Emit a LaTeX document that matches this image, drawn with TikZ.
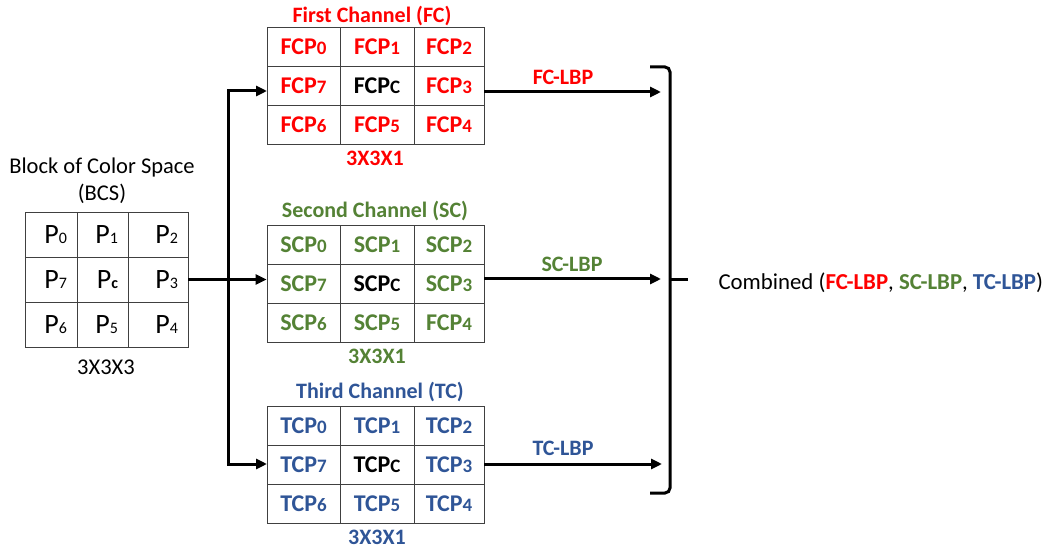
\documentclass[tikz,border=0pt]{standalone}
\usepackage{fontspec}
\setmainfont{Carlito}
\usetikzlibrary{arrows.meta,calc,positioning}
\definecolor{fcred}{RGB}{255,0,0}
\definecolor{scgreen}{RGB}{84,130,53}
\definecolor{tcblue}{RGB}{47,85,151}
\newcommand{\psub}[1]{{\fontsize{19}{19}\selectfont #1}}
\newcommand{\bsub}[1]{{\fontsize{16}{16}\selectfont #1}}
\newcommand{\ctrcell}[1]{\textcolor{black}{#1}}

\begin{document}
\begin{tikzpicture}[x=1pt, y=-1pt, >=Stealth,
  flow/.style={-{Triangle[length=11pt, width=10pt]}, line width=3pt},
  chcell/.style={draw=black!75, line width=0.9pt, minimum width=#1 pt, minimum height=39pt,
    inner sep=0pt, font=\bfseries\fontsize{24}{24}\selectfont},
  bcell/.style={draw=black!75, line width=0.9pt, minimum height=45pt, inner ysep=0pt,
    inner xsep=10pt, align=right, font=\fontsize{28}{28}\selectfont},
  lbl/.style={font=\bfseries\fontsize{22}{22}\selectfont},
  plain/.style={font=\fontsize{22.5}{27}\selectfont, align=center}]
  \useasboundingbox (0,0) rectangle (1045,548);

  % block of colour space
  \node[plain] (bcstitle) at (102,181) {Block of Color Space\\(BCS)};
  \foreach \lab [count=\k from 0] in {P\bsub0,P\bsub1,P\bsub2,P\bsub7,P\bsub{\textbf{c}},P\bsub3,P\bsub6,P\bsub5,P\bsub4}{
    \pgfmathtruncatemacro\ri{\k/3+1}
    \pgfmathtruncatemacro\ci{mod(\k,3)+1}
    \pgfmathsetmacro\cx{{51,102.5,158}[\ci-1]}
    \pgfmathsetmacro\tw{{32,31,40}[\ci-1]}
    \node[bcell, text width=\tw pt] (bcs-\ri-\ci) at (\cx,{212+45*(\ri-0.5)}) {\lab};
  }
  \node[plain] (bcssize) at (106,367) {3X3X3};

  % the three channels
  \foreach \tb/\ytop/\col/\labs in {
      fc/27/fcred/{FCP\psub0,FCP\psub1,FCP\psub2,FCP\psub7,\ctrcell{FCP\psub{C}},FCP\psub3,FCP\psub6,FCP\psub5,FCP\psub4},
      sc/225/scgreen/{SCP\psub0,SCP\psub1,SCP\psub2,SCP\psub7,\ctrcell{SCP\psub{C}},SCP\psub3,SCP\psub6,SCP\psub5,FCP\psub4},
      tc/406/tcblue/{TCP\psub0,TCP\psub1,TCP\psub2,TCP\psub7,\ctrcell{TCP\psub{C}},TCP\psub3,TCP\psub6,TCP\psub5,TCP\psub4}}
    \foreach \lab [count=\k from 0] in \labs {
      \pgfmathtruncatemacro\ri{\k/3+1}
      \pgfmathtruncatemacro\ci{mod(\k,3)+1}
      \pgfmathsetmacro\cx{{303.5,377,449}[\ci-1]}
      \pgfmathsetmacro\cw{{73,74,70}[\ci-1]}
      \node[chcell=\cw, text=\col] (\tb-\ri-\ci) at (\cx,{\ytop+39*(\ri-0.5)}) {\lab};
    };

  \node[lbl, text=fcred] (fctitle) at (372,16) {First Channel (FC)};
  \node[lbl, text=fcred] (fcsize) at (375,158) {3X3X1};
  \node[lbl, text=scgreen] (sctitle) at (375,211) {Second Channel (SC)};
  \node[lbl, text=scgreen] (scsize) at (377,356) {3X3X1};
  \node[lbl, text=tcblue] (tctitle) at (380,392) {Third Channel (TC)};
  \node[lbl, text=tcblue] (tcsize) at (377,537) {3X3X1};

  % split into channels
  \coordinate (split) at (228,280);
  \coordinate (fcin) at (267,91);
  \coordinate (tcin) at (267,464);
  \draw[flow] (bcs-2-3.east) -- (bcs-2-3.east -| sc-2-1.west);
  \draw[flow] (split) |- (fcin);
  \draw[flow] (split) |- (tcin);

  % channel outputs
  \coordinate (fcend) at (661,92);
  \coordinate (scend) at (661,279);
  \coordinate (tcend) at (662,464);
  \draw[flow] (fc-2-3.east |- fcend) -- (fcend);
  \draw[flow] (sc-2-3.east |- scend) -- (scend);
  \draw[flow] (tc-2-3.east |- tcend) -- (tcend);
  \node[lbl, text=fcred] (fclbp) at (563,77) {FC-LBP};
  \node[lbl, text=scgreen] (sclbp) at (572,264) {SC-LBP};
  \node[lbl, text=tcblue] (tclbp) at (563,448) {TC-LBP};

  % bracket
  \coordinate (brtop) at (650,67);
  \coordinate (brbot) at (650,493);
  \coordinate (brtip) at (688,280);
  \draw[line width=3pt, rounded corners=5pt] (brtop) -| (670,280) |- (brbot);
  \draw[line width=3pt] (670,280) -- (brtip);

  \node[anchor=west, font=\fontsize{22.8}{22.8}\selectfont] (comb) at (715,283)
    {Combined (\textcolor{fcred}{\textbf{FC-LBP}}, \textcolor{scgreen}{\textbf{SC-LBP}}, \textcolor{tcblue}{\textbf{TC-LBP}})};
\end{tikzpicture}
\end{document}
